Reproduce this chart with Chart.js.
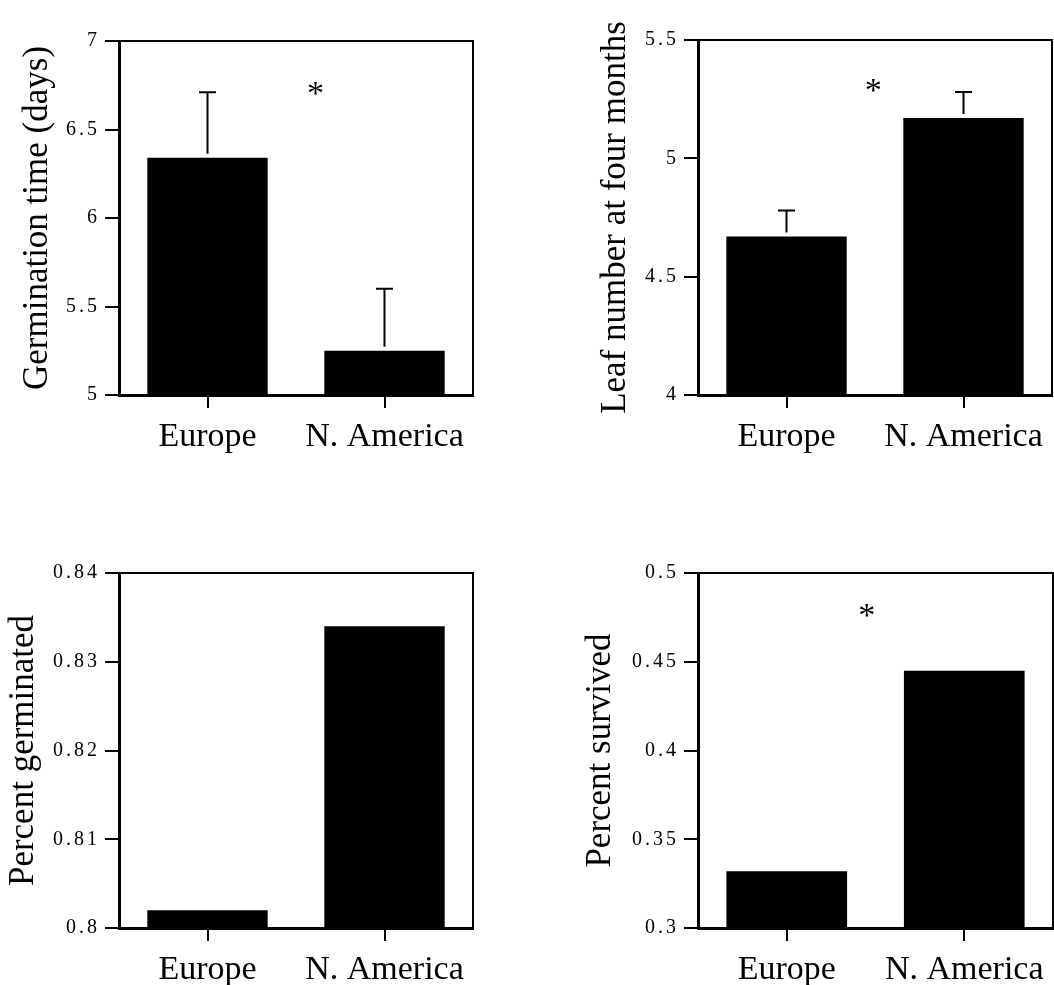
<!DOCTYPE html>
<html>
<head>
<meta charset="utf-8">
<script src="https://cdn.jsdelivr.net/npm/chart.js@4/dist/chart.umd.min.js"></script>
<style>
  html, body { margin: 0; padding: 0; background: #fff; }
  #wrap { position: relative; width: 1054px; height: 985px; }
  canvas { position: absolute; }
</style>
</head>
<body>
<div id="wrap">
  <canvas id="c1" width="527" height="470" style="left:0;top:0"></canvas>
  <canvas id="c2" width="527" height="470" style="left:527px;top:0"></canvas>
  <canvas id="c3" width="527" height="495" style="left:0;top:490px"></canvas>
  <canvas id="c4" width="527" height="495" style="left:527px;top:490px"></canvas>
</div>
<script>
/* data */
const categories = ["Europe", "N. America"];

const germTime = [6.34, 5.25];
const germTimeErr = [0.37, 0.35];
const germTimeTicks = [5, 5.5, 6, 6.5, 7];
const germTimeStar = [0.61, 6.72];

const leafNum = [4.67, 5.17];
const leafNumErr = [0.11, 0.11];
const leafNumTicks = [4, 4.5, 5, 5.5];
const leafNumStar = [0.49, 5.30];

const pctGerm = [0.802, 0.834];
const pctGermTicks = [0.8, 0.81, 0.82, 0.83, 0.84];

const pctSurv = [0.332, 0.445];
const pctSurvTicks = [0.3, 0.35, 0.4, 0.45, 0.5];
const pctSurvStar = [0.45, 0.478];

const SERIF = "'Liberation Serif', 'Times New Roman', serif";

// error whiskers (upper only), significance star and top/right frame
const extras = {
  id: "extras",
  afterLayout(chart) {
    // the y tick numbers are set a bit loose in the original
    const ys = chart.scales.y;
    if (ys._spaced) return;
    const orig = ys.drawLabels.bind(ys);
    ys.drawLabels = function (area) {
      chart.ctx.save();
      chart.ctx.letterSpacing = "3px";
      orig(area);
      chart.ctx.restore();
    };
    ys._spaced = true;
  },
  afterDatasetsDraw(chart, args, opts) {
    const ctx = chart.ctx;
    const x = chart.scales.x, y = chart.scales.y;
    const area = chart.chartArea;
    ctx.save();
    ctx.strokeStyle = "#000";
    ctx.lineWidth = 2;
    if (opts.err) {
      const bars = chart.getDatasetMeta(0).data;
      const vals = chart.data.datasets[0].data;
      bars.forEach((bar, i) => {
        const top = y.getPixelForValue(vals[i] + opts.err[i]);
        ctx.beginPath();
        ctx.moveTo(bar.x, bar.y - 4);
        ctx.lineTo(bar.x, top);
        ctx.moveTo(bar.x - 8.5, top);
        ctx.lineTo(bar.x + 8.5, top);
        ctx.stroke();
      });
    }
    // frame top and right
    ctx.beginPath();
    ctx.moveTo(area.left, area.top);
    ctx.lineTo(area.right, area.top);
    ctx.lineTo(area.right, area.bottom);
    ctx.stroke();
    if (opts.star) {
      ctx.fillStyle = "#000";
      ctx.font = "34px " + SERIF;
      ctx.textAlign = "center";
      ctx.textBaseline = "middle";
      ctx.fillText("*", x.getPixelForValue(opts.star[0]), y.getPixelForValue(opts.star[1]) + 5);
    }
    ctx.restore();
  }
};

function makeChart(id, values, ticks, title, o) {
  return new Chart(document.getElementById(id), {
    type: "bar",
    data: {
      labels: categories,
      datasets: [{
        data: values,
        backgroundColor: "#000",
        borderWidth: 0,
        barPercentage: 0.68,
        categoryPercentage: 1
      }]
    },
    options: {
      responsive: false,
      animation: false,
      layout: { padding: { top: o.top, right: o.right, left: 0, bottom: 0 } },
      plugins: {
        legend: { display: false },
        tooltip: { enabled: false },
        extras: { err: o.err, star: o.star }
      },
      scales: {
        x: {
          offset: true,
          grid: { offset: false, drawOnChartArea: false, color: "#000", lineWidth: 2, tickLength: 13 },
          border: { color: "#000", width: 3 },
          ticks: { color: "#000", font: { family: SERIF, size: 34 }, padding: 9, maxRotation: 0 },
          afterFit: s => { s.height = o.xh; }
        },
        y: {
          min: ticks[0],
          max: ticks[ticks.length - 1],
          afterBuildTicks: s => { s.ticks = ticks.map(v => ({ value: v })); },
          grid: { drawOnChartArea: false, color: "#000", lineWidth: 2, tickLength: 14 },
          border: { color: "#000", width: 3 },
          ticks: {
            color: "#000",
            font: { family: SERIF, size: 20 },
            padding: 5,
            callback: v => String(+v.toFixed(3))
          },
          title: {
            display: true,
            text: title,
            color: "#000",
            font: { family: SERIF, size: 35 },
            padding: { top: o.tp, bottom: 0 }
          },
          afterFit: s => { s.width = o.yw; }
        }
      }
    },
    plugins: [extras]
  });
}

makeChart("c1", germTime, germTimeTicks, "Germination time (days)",
  { top: 41, right: 54, xh: 75, yw: 119, tp: 17, err: germTimeErr, star: germTimeStar });
makeChart("c2", leafNum, leafNumTicks, "Leaf number at four months",
  { top: 40, right: 2, xh: 75, yw: 171, tp: 68, err: leafNumErr, star: leafNumStar });
makeChart("c3", pctGerm, pctGermTicks, "Percent germinated",
  { top: 83, right: 54, xh: 57, yw: 119, tp: 3 });
makeChart("c4", pctSurv, pctSurvTicks, "Percent survived",
  { top: 83, right: 1, xh: 57, yw: 171, tp: 53, star: pctSurvStar });
</script>
</body>
</html>
